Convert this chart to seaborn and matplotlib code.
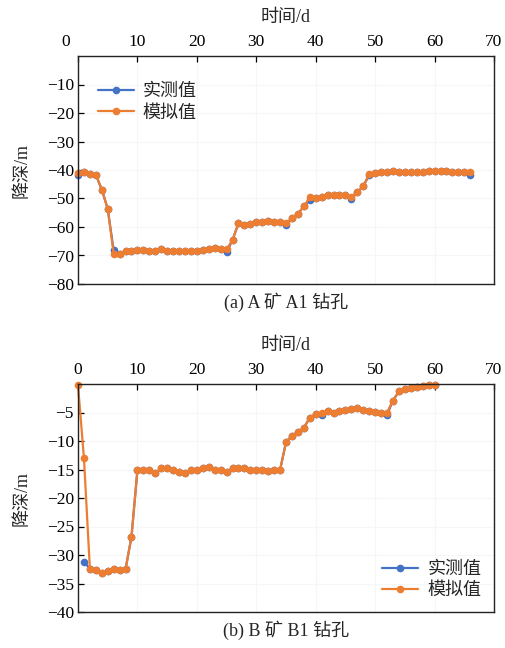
import numpy as np
import pandas as pd
import matplotlib
matplotlib.use("Agg")
import matplotlib.pyplot as plt
import matplotlib.transforms as mtransforms
import seaborn as sns

# ---------------- data ----------------
days_a = list(range(0, 67))
sim_a = [-41.0, -40.7, -41.3, -41.6, -46.9, -53.6, -69.4, -69.4, -68.5, -68.5,
         -68.2, -68.2, -68.5, -68.5, -67.6, -68.5, -68.5, -68.3, -68.3, -68.5,
         -68.5, -68.2, -67.6, -67.2, -67.6, -67.8, -64.6, -58.7, -59.3, -58.9,
         -58.4, -58.1, -57.9, -58.1, -58.1, -58.7, -56.9, -55.4, -52.8, -49.6,
         -49.8, -49.3, -48.7, -48.7, -48.7, -48.9, -49.3, -47.7, -45.7, -41.3,
         -41.0, -40.7, -40.6, -40.2, -40.6, -40.7, -40.7, -40.6, -40.6, -40.2,
         -40.2, -40.2, -40.2, -40.6, -40.6, -40.6, -40.6]
meas_a = list(sim_a)
for i, v in {0: -41.8, 6: -68.2, 25: -68.8, 35: -59.3, 39: -50.4,
             46: -50.2, 49: -41.8, 66: -41.6}.items():
    meas_a[i] = v

days_b = list(range(0, 61))
sim_b = [-0.2, -13.0, -32.4, -32.7, -33.2, -32.8, -32.4, -32.7, -32.5, -26.8,
         -15.1, -15.1, -15.1, -15.7, -14.8, -14.8, -15.1, -15.4, -15.7, -15.1,
         -15.1, -14.8, -14.6, -15.1, -15.1, -15.4, -14.8, -14.8, -14.8, -15.1,
         -15.0, -15.1, -15.3, -15.0, -15.1, -10.2, -9.1, -8.4, -7.7, -5.9,
         -5.3, -5.0, -4.8, -5.1, -4.8, -4.6, -4.4, -4.2, -4.6, -4.7,
         -4.9, -5.1, -5.0, -2.9, -1.3, -0.8, -0.7, -0.5, -0.3, -0.2, -0.1]
meas_b = list(sim_b)
meas_b[0] = np.nan
for i, v in {1: -31.2, 41: -5.4, 52: -5.4}.items():
    meas_b[i] = v

xticks = [0, 10, 20, 30, 40, 50, 60, 70]
yticks_a = [-80, -70, -60, -50, -40, -30, -20, -10]
yticks_b = [-40, -35, -30, -25, -20, -15, -10, -5]
labels = ["实测值", "模拟值"]
captions = ["(a) A 矿 A1 钻孔", "(b) B 矿 B1 钻孔"]
xlabel = "时间/d"
ylabel = "降深/m"

# ---------------- style ----------------
sns.set_style("ticks")
plt.rcParams["font.family"] = ["Liberation Serif", "Noto Sans CJK SC", "DejaVu Sans"]
plt.rcParams["axes.unicode_minus"] = True

BLUE = "#4472C4"
ORANGE = "#ED7D31"
W, H = 506, 648
fig = plt.figure(figsize=(W / 100, H / 100), dpi=100)

def frac(left, top, right, bottom):
    return [left / W, 1 - bottom / H, (right - left) / W, (bottom - top) / H]

panels = [
    dict(rect=frac(78, 56, 494, 284), days=days_a, meas=meas_a, sim=sim_a,
         ylim=(-80, 0), yticks=yticks_a, loc="upper left",
         bbox=(0.017, 0.937), cap=captions[0], shift0=True),
    dict(rect=frac(78, 384, 494, 612), days=days_b, meas=meas_b, sim=sim_b,
         ylim=(-40, 0), yticks=yticks_b, loc="lower right",
         bbox=(1.0, 0.0), cap=captions[1], shift0=False),
]

for p in panels:
    ax = fig.add_axes(p["rect"])
    df = pd.DataFrame({
        "t": p["days"] * 2,
        "v": p["meas"] + p["sim"],
        "s": [labels[0]] * len(p["days"]) + [labels[1]] * len(p["days"]),
    })
    sns.lineplot(data=df, x="t", y="v", hue="s", palette=[BLUE, ORANGE],
                 marker="o", markersize=5.5, markeredgewidth=0, linewidth=1.6,
                 ax=ax, legend=True, clip_on=False, estimator=None, sort=False)
    ax.set_xlim(0, 70)
    ax.set_ylim(*p["ylim"])
    ax.set_xticks(xticks)
    ax.set_yticks(p["yticks"])
    ax.xaxis.tick_top()
    ax.xaxis.set_label_position("top")
    ax.tick_params(axis="both", direction="in", length=4, width=0.9,
                   labelsize=12.5, colors="black")
    ax.tick_params(axis="x", pad=4)
    ax.tick_params(axis="y", pad=3)
    ax.grid(True, color="#f5f6f8", linewidth=0.8)
    for sp in ax.spines.values():
        sp.set_visible(True)
        sp.set_linewidth(1.0)
        sp.set_color("#222222")
    ax.set_xlabel(xlabel, fontsize=13, labelpad=9)
    ax.set_ylabel(ylabel, fontsize=13)
    ax.yaxis.set_label_coords(-0.115, 0.5)
    ax.legend(loc=p["loc"], bbox_to_anchor=p["bbox"], frameon=False,
              fontsize=13, handlelength=2.0, handletextpad=0.5,
              labelspacing=0.25, borderaxespad=0.3)
    ax.text(0.5, -0.035, p["cap"], transform=ax.transAxes, ha="center",
            va="top", fontsize=13)
    if p["shift0"]:
        lab = ax.xaxis.get_major_ticks()[0].label2
        lab.set_transform(lab.get_transform() +
                          mtransforms.ScaledTranslation(-0.12, 0, fig.dpi_scale_trans))

fig.savefig("out.png", dpi=100)
